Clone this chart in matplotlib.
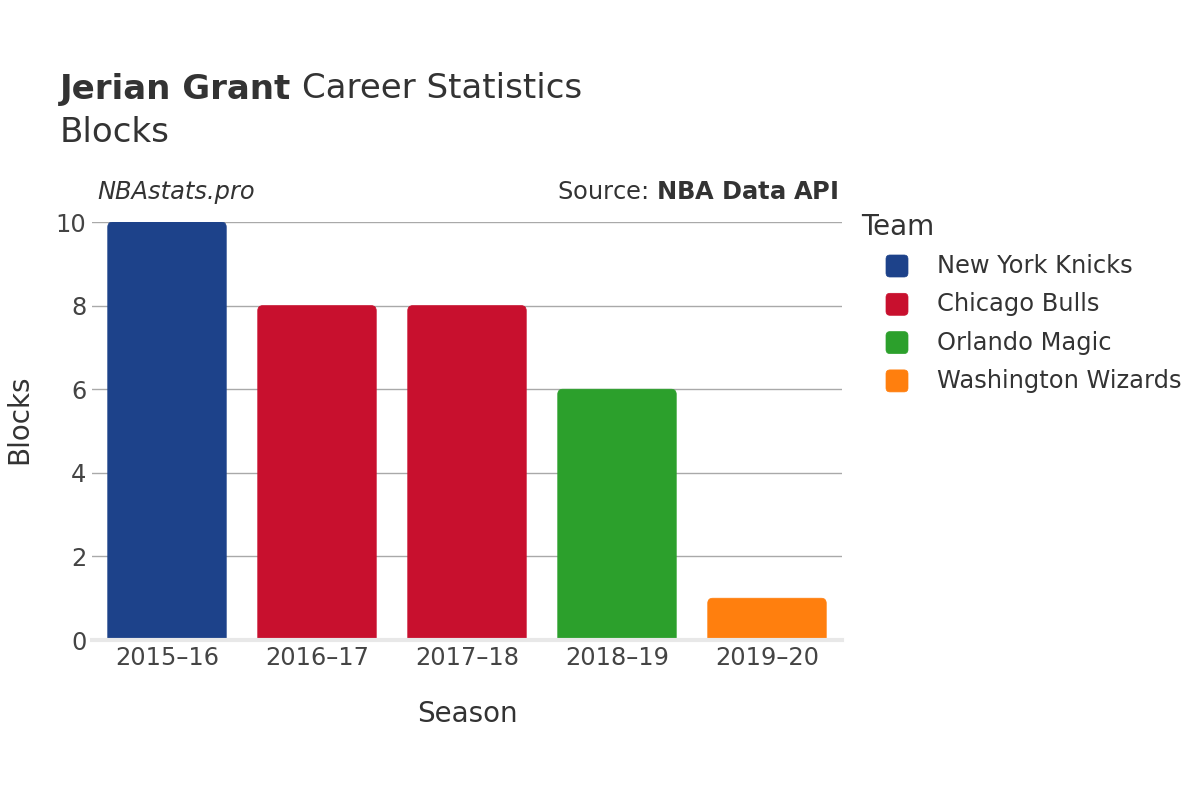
import matplotlib
matplotlib.use("Agg")
import matplotlib.pyplot as plt
from matplotlib.patches import FancyBboxPatch

seasons = ["2015–16", "2016–17", "2017–18", "2018–19", "2019–20"]
blocks = [10, 8, 8, 6, 1]
teams = ["New York Knicks", "Chicago Bulls", "Chicago Bulls", "Orlando Magic", "Washington Wizards"]
team_order = ["New York Knicks", "Chicago Bulls", "Orlando Magic", "Washington Wizards"]
team_colors = {
    "New York Knicks": "#1d428a",
    "Chicago Bulls": "#c8102e",
    "Orlando Magic": "#2ca02c",
    "Washington Wizards": "#ff7f0e",
}

plt.rcParams['font.family'] = ['DejaVu Sans']
TXT = "#333333"
W, H = 1200, 800

fig = plt.figure(figsize=(12, 8), dpi=100)
ax = fig.add_axes([92/W, 1-640/H, 750/W, 418/H])
ax.set_xlim(-0.5, len(seasons) - 0.5)
ax.set_ylim(0, 10)

px_x = 150.0
px_y = 41.8
r_px = 5.0
r = r_px / px_x
aspect = (r_px / px_y) / r
width = 0.79
for i, (v, t) in enumerate(zip(blocks, teams)):
    base = -0.3
    p = FancyBboxPatch((i - width/2, base), width, v - base,
                       boxstyle=f"round,pad=0,rounding_size={r}",
                       mutation_aspect=aspect,
                       facecolor=team_colors[t], edgecolor=team_colors[t],
                       linewidth=0.5, zorder=2, clip_on=True)
    ax.add_patch(p)

ax.set_yticks([0, 2, 4, 6, 8, 10])
ax.set_xticks(range(len(seasons)))
ax.set_xticklabels(seasons)
ax.yaxis.grid(True, color="#a9a9a9", linewidth=1)
ax.set_axisbelow(True)
for s in ax.spines.values():
    s.set_visible(False)
ax.tick_params(axis='both', length=0, labelsize=17.4, colors="#444444")
ax.tick_params(axis='y', pad=4)
ax.tick_params(axis='x', pad=4)
ax.axhline(0, color="#e8e8e8", linewidth=3, zorder=3, clip_on=False)

ax.set_xlabel("Season", fontsize=20, color=TXT, labelpad=22)
ax.set_ylabel("Blocks", fontsize=20, color=TXT)
ax.yaxis.set_label_coords((33 - 92) / 750, (640 - 419) / 418)

# Titles
t1 = fig.text(60/W, 1-89/H, "Jerian Grant", fontsize=24.5, fontweight='bold', color=TXT, va='center', ha='left')
fig.canvas.draw()
bb = t1.get_window_extent(renderer=fig.canvas.get_renderer())
fig.text((bb.x1 + 11)/W, 1-89/H, "Career Statistics", fontsize=24.5, color=TXT, va='center', ha='left')
fig.text(60/W, 1-133/H, "Blocks", fontsize=24.5, color=TXT, va='center', ha='left')

fig.text(97/W, 1-192/H, "NBAstats.pro", fontsize=17.4, style='italic', color=TXT, va='center', ha='left')
fig.text(838/W, 1-192/H, "Source: $\\bf{NBA\\ Data\\ API}$", fontsize=17.4, color=TXT, va='center', ha='right')

# Legend (manual, plotly style)
fig.text(861/W, 1-227/H, "Team", fontsize=20, color=TXT, va='center', ha='left')
for k, t in enumerate(team_order):
    yc = 266 + k * 38.3
    sq = 22
    patch = FancyBboxPatch(((897 - sq/2)/W, 1-(yc + sq/2)/H), sq/W, sq/H,
                           boxstyle=f"round,pad=0,rounding_size={4/W}",
                           mutation_aspect=W/H,
                           transform=fig.transFigure,
                           facecolor=team_colors[t], edgecolor=team_colors[t], linewidth=0.5)
    fig.add_artist(patch)
    fig.text(937/W, 1-yc/H, t, fontsize=17.4, color=TXT, va='center', ha='left')

fig.savefig("out.png", dpi=100, facecolor="white")
